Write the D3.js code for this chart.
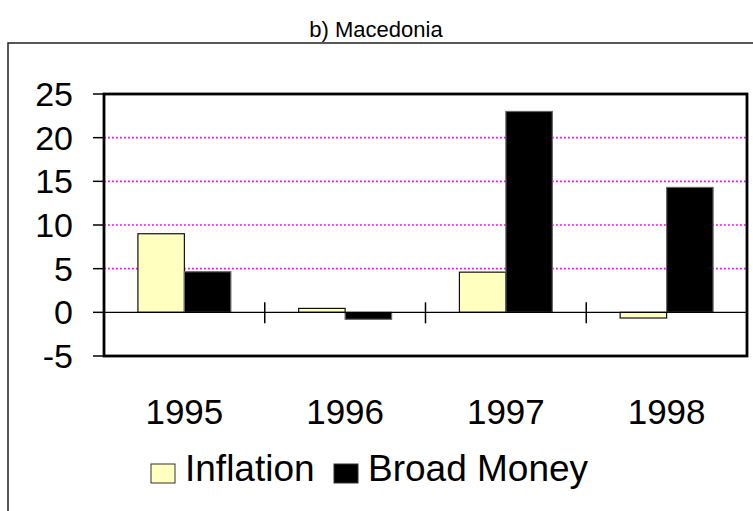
<!DOCTYPE html>
<html>
<head>
<meta charset="utf-8">
<script src="https://cdn.jsdelivr.net/npm/d3@7"></script>
<style>
  body { margin: 0; background: #fff; }
  svg { display: block; font-family: "Liberation Sans", Arial, sans-serif; }
</style>
</head>
<body>
<svg id="chart" width="753" height="511"></svg>
<script>
const years = ["1995", "1996", "1997", "1998"];
const inflation = [9.0, 0.45, 4.6, -0.65];
const broadMoney = [4.65, -0.8, 23.0, 14.3];
const yTicks = [-5, 0, 5, 10, 15, 20, 25];
const gridTicks = [5, 10, 15, 20];
const seriesNames = ["Inflation", "Broad Money"];
const seriesColors = ["#ffffc0", "#000000"];

const svg = d3.select("#chart");
const plot = { left: 104, right: 747, top: 94, bottom: 356 };

// outer frame (runs off the right and bottom of the picture)
svg.append("rect")
    .attr("x", 8).attr("y", 43)
    .attr("width", 800).attr("height", 520)
    .attr("fill", "none").attr("stroke", "#222").attr("stroke-width", 1.5);

// title
svg.append("text")
    .attr("x", 376).attr("y", 37)
    .attr("text-anchor", "middle")
    .attr("font-size", 22)
    .text("b) Macedonia");

const y = d3.scaleLinear().domain([-5, 25]).range([plot.bottom, plot.top]);
const x0 = d3.scaleBand().domain(years).range([plot.left, plot.right]);
const x1 = d3.scaleBand().domain(seriesNames).range([0, x0.bandwidth()])
    .paddingInner(0).paddingOuter(0.73);

// dotted gridlines
svg.append("g").selectAll("line")
    .data(gridTicks).enter().append("line")
    .attr("x1", plot.left).attr("x2", plot.right)
    .attr("y1", d => y(d)).attr("y2", d => y(d))
    .attr("stroke", "#ff00ff").attr("stroke-width", 1.6)
    .attr("stroke-dasharray", "1.8,2.2");

// bars
const rows = years.map((yr, i) => ({ year: yr, values: [inflation[i], broadMoney[i]] }));
const groups = svg.append("g").selectAll("g")
    .data(rows).enter().append("g")
    .attr("transform", d => "translate(" + x0(d.year) + ",0)");
groups.selectAll("rect")
    .data(d => d.values.map((v, k) => ({ name: seriesNames[k], value: v, k: k })))
    .enter().append("rect")
    .attr("x", d => x1(d.name))
    .attr("width", x1.bandwidth())
    .attr("y", d => y(Math.max(0, d.value)))
    .attr("height", d => Math.abs(y(d.value) - y(0)))
    .attr("fill", d => seriesColors[d.k])
    .attr("stroke", d => d.k == 0 ? "#111" : "#666")
    .attr("stroke-width", 1.2);

// zero line
svg.append("line")
    .attr("x1", plot.left).attr("x2", plot.right)
    .attr("y1", y(0)).attr("y2", y(0))
    .attr("stroke", "#000").attr("stroke-width", 1.2);

// category separator ticks on the zero line
const seps = years.slice(1).map(yr => x0(yr));
svg.append("g").selectAll("line")
    .data(seps).enter().append("line")
    .attr("x1", d => d).attr("x2", d => d)
    .attr("y1", y(0) - 10).attr("y2", y(0) + 11)
    .attr("stroke", "#000").attr("stroke-width", 1.5);

// plot border
svg.append("rect")
    .attr("x", plot.left).attr("y", plot.top)
    .attr("width", plot.right - plot.left).attr("height", plot.bottom - plot.top)
    .attr("fill", "none").attr("stroke", "#000").attr("stroke-width", 2.8);

// y axis ticks + labels
const yAxis = svg.append("g");
yAxis.selectAll("line")
    .data(yTicks).enter().append("line")
    .attr("x1", 93).attr("x2", plot.left)
    .attr("y1", d => y(d)).attr("y2", d => y(d))
    .attr("stroke", "#000").attr("stroke-width", 1.5);
yAxis.selectAll("text")
    .data(yTicks).enter().append("text")
    .attr("x", 73)
    .attr("y", d => y(d) + 12)
    .attr("text-anchor", "end")
    .attr("font-size", 34)
    .text(d => d);

// x labels
svg.append("g").selectAll("text")
    .data(years).enter().append("text")
    .attr("x", d => x0(d) + x0.bandwidth() / 2)
    .attr("y", 424)
    .attr("text-anchor", "middle")
    .attr("font-size", 35)
    .text(d => d);

// legend
const legendX = [151, 334];
const legend = svg.append("g").selectAll("g")
    .data(seriesNames).enter().append("g");
legend.append("rect")
    .attr("x", (d, i) => legendX[i]).attr("y", 464)
    .attr("width", 24).attr("height", 19)
    .attr("fill", (d, i) => seriesColors[i])
    .attr("stroke", "#333").attr("stroke-width", 1);
legend.append("text")
    .attr("x", (d, i) => legendX[i] + 34)
    .attr("y", 481)
    .attr("font-size", 37)
    .text(d => d);
</script>
</body>
</html>
